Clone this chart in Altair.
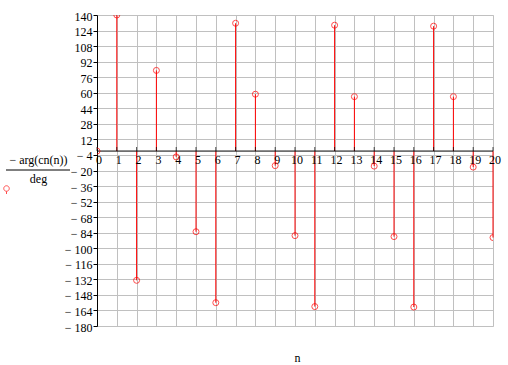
import altair as alt
import pandas as pd

n_vals = list(range(21))
phase = [0, 140, -133, 83, -6, -83, -156, 131.5, 58.5, -15, -87, -160,
         129.5, 56, -15.5, -88, -160.5, 128.5, 56, -16.5, -89]
y_ticks = [140, 124, 108, 92, 76, 60, 44, 28, 12, -4, -20, -36, -52, -68,
           -84, -100, -116, -132, -148, -164, -180]
x_ticks = list(range(21))

FONT = "Liberation Serif"
RED = "#ff0000"
GRID = "#c0c0c0"

df = pd.DataFrame({"n": n_vals, "v": phase, "zero": [0] * len(n_vals),
                   "s": ["trace"] * len(n_vals)})
axis_df = pd.DataFrame({"n": [0], "n2": [20], "zero": [0]})
tick_df = pd.DataFrame({"n": x_ticks, "zero": [0] * len(x_ticks)})

xs = alt.Scale(domain=[0, 20], nice=False, zero=False)
ys = alt.Scale(domain=[-180, 140], nice=False, zero=False)

label_expr = "datum.value < 0 ? '\u2212 ' + abs(datum.value) : '' + datum.value"

X = alt.X("n:Q", scale=xs, title="n")
Y = alt.Y("zero:Q", scale=ys, title=["\u2212 arg(cn(n))", "deg"])

stems = alt.Chart(df).mark_rule(color=RED, strokeWidth=1).encode(
    x=alt.X("n:Q", scale=xs, title="n", axis=alt.Axis(
        values=x_ticks, tickCount=40, grid=True, gridColor=GRID, gridWidth=1,
        labels=False, ticks=False, domain=False,
        titleX=200, titleY=31, titleBaseline="middle",
        titleFont=FONT, titleFontSize=12, titleFontWeight="normal",
        titleColor="black")),
    y=alt.Y("zero:Q", scale=ys, title=["\u2212 arg(cn(n))", "deg"], axis=alt.Axis(
        values=y_ticks, tickCount=40, labelOverlap=False,
        grid=True, gridColor=GRID, gridWidth=1,
        domainColor="black", tickColor="black", tickSize=4,
        labelFont=FONT, labelFontSize=12, labelColor="black",
        labelPadding=1, labelExpr=label_expr, labelOffset=1,
        titleAngle=0,
        titleX=-59, titleY=139, titleAlign="center", titleBaseline="top",
        titleFont=FONT, titleFontSize=12, titleFontWeight="normal",
        titleColor="black", titleLineHeight=19.5)),
    y2="v:Q",
)

zero_line = alt.Chart(axis_df).mark_rule(color="black", strokeWidth=1).encode(
    x=X, x2="n2:Q", y=Y,
)

ticks = alt.Chart(tick_df).mark_tick(
    orient="vertical", size=4, thickness=1, color="black", yOffset=-2
).encode(x=X, y=Y)

tick_labels = alt.Chart(tick_df).mark_text(
    font=FONT, fontSize=12, color="black", dy=9, dx=2, baseline="middle"
).encode(x=X, y=Y, text=alt.Text("n:Q"))

sym_path = "M-0.5,0A0.5,0.5,0,1,1,0.5,0A0.5,0.5,0,1,1,-0.5,0M0,0.5L0,1"

points = alt.Chart(df).mark_point(
    shape="circle", filled=False, size=36, strokeWidth=1, clip=True
).encode(
    x=X,
    y=alt.Y("v:Q", scale=ys, title=["\u2212 arg(cn(n))", "deg"]),
    color=alt.Color("s:N", scale=alt.Scale(range=[RED]), legend=alt.Legend(
        orient="none", legendX=-96.5, legendY=167.5, title=None,
        labelExpr="''", symbolType=sym_path, symbolSize=121,
        symbolStrokeWidth=1, padding=0, labelFontSize=1)),
)

bar = alt.Chart(axis_df).mark_rule(color="black", strokeWidth=1).encode(
    x=alt.value(-91), x2=alt.value(-27), y=alt.value(155),
)

chart = alt.layer(stems, zero_line, ticks, tick_labels, points, bar).properties(
    width=396, height=311,
    autosize=alt.AutoSizeParams(type="none"),
    padding={"left": 97, "top": 15, "right": 15, "bottom": 39},
).configure_view(strokeWidth=0).configure(background="white")

chart.save("out.html", embed_options={"renderer": "svg", "actions": False})
